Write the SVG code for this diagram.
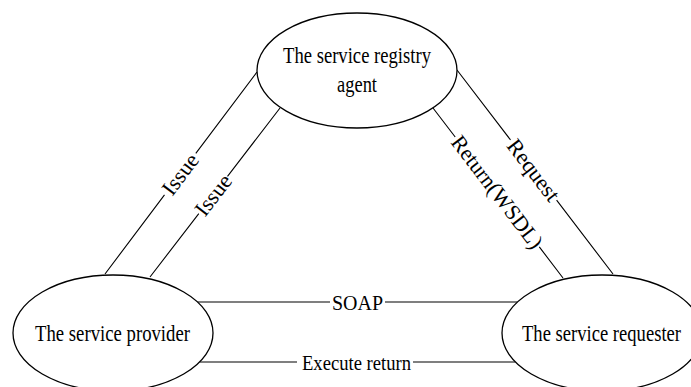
<svg xmlns="http://www.w3.org/2000/svg" width="691" height="387" viewBox="0 0 691 387">
  <style>
    .node { fill: #ffffff; stroke: #000000; stroke-width: 1.3; }
    .edge { fill: none; stroke: #000000; stroke-width: 1.1; }
    .ntext { font-family: "Liberation Serif", "Times New Roman", serif; font-size: 23px; fill: #000000; text-anchor: middle; }
    .big { font-size: 24px; }
    .ltext { font-family: "Liberation Serif", "Times New Roman", serif; font-size: 22px; fill: #000000; text-anchor: middle; }
  </style>
  <rect x="0" y="0" width="691" height="387" fill="#ffffff"/>

  <!-- connectors, each broken where its label sits -->
  <g id="connectors">
    <path class="edge" d="M105,274 L164.5,194.9 M195.8,153.4 L257,72"/>
    <path class="edge" d="M150,277 L198.8,213.6 M227.5,176.3 L280,108"/>
    <path class="edge" d="M433,108 L455.2,137 M539.3,246.9 L563,278"/>
    <path class="edge" d="M457,70 L510.5,139.9 M556.6,200.2 L613,274"/>
    <path class="edge" d="M197.5,302 L330,302 M385,302 L517.5,302"/>
    <path class="edge" d="M199.6,362 L297,362 M413,362 L515.4,362"/>
    <g id="edge-labels">
      <text class="ltext" transform="translate(180.1,174.1) rotate(-53)" x="0" y="7.5" textLength="46" lengthAdjust="spacingAndGlyphs">Issue</text>
      <text class="ltext" transform="translate(213.1,194.9) rotate(-52.4)" x="0" y="7.5" textLength="46" lengthAdjust="spacingAndGlyphs">Issue</text>
      <text class="ltext" transform="translate(497.3,192) rotate(52.6)" x="0" y="7.5" textLength="136" lengthAdjust="spacingAndGlyphs">Return(WSDL)</text>
      <text class="ltext" transform="translate(533.5,170) rotate(52.6)" x="0" y="7.5" textLength="72" lengthAdjust="spacingAndGlyphs">Request</text>
      <text class="ltext" x="357.5" y="309.5" textLength="51" lengthAdjust="spacingAndGlyphs">SOAP</text>
      <text class="ltext" x="356.5" y="370" textLength="109" lengthAdjust="spacingAndGlyphs">Execute return</text>
    </g>
  </g>

  <g id="registry">
    <ellipse class="node" cx="357" cy="70.5" rx="100" ry="57.5"/>
    <text class="ntext" x="357" y="63" textLength="148" lengthAdjust="spacingAndGlyphs">The service registry</text>
    <text class="ntext" x="357" y="92" textLength="40" lengthAdjust="spacingAndGlyphs">agent</text>
  </g>

  <g id="provider">
    <ellipse class="node" cx="113" cy="333" rx="100" ry="58"/>
    <text class="ntext big" x="112.5" y="341" textLength="155" lengthAdjust="spacingAndGlyphs">The service provider</text>
  </g>

  <g id="requester">
    <ellipse class="node" cx="602" cy="333" rx="100" ry="58"/>
    <text class="ntext big" x="601.5" y="341" textLength="159" lengthAdjust="spacingAndGlyphs">The service requester</text>
  </g>
</svg>
